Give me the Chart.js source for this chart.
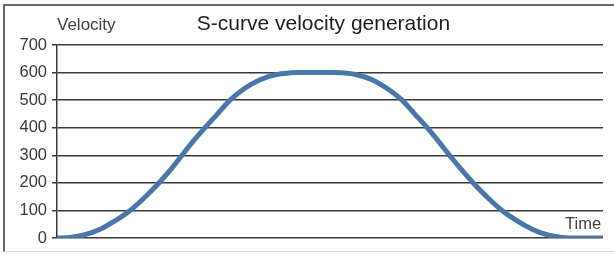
<!DOCTYPE html>
<html>
<head>
<meta charset="utf-8">
<script src="https://cdn.jsdelivr.net/npm/chart.js@4"></script>
<style>
  html, body { margin: 0; padding: 0; background: #fff; }
  #wrap { position: relative; width: 614px; height: 255px; overflow: hidden; font-family: "Liberation Sans", Arial, sans-serif; }
  #frame { position: absolute; left: 3px; top: 4px; width: 620px; height: 245px; border-top: 2px solid #6e6964; border-left: 2px solid #6e6964; border-bottom: 1px solid #e2e2e2; }
  #chart { position: absolute; left: 0; top: 0; }
  .lbl { position: absolute; white-space: nowrap; color: #404040; }
  #title { left: 0; width: 647px; text-align: center; top: 11px; font-size: 21px; color: #1e1e1e; }
  #ylab { left: 57px; top: 15px; font-size: 17px; }
  #xlab { left: 565px; top: 214px; font-size: 16.5px; }
</style>
</head>
<body>
<div id="wrap">
  <div id="frame"></div>
  <canvas id="chart" width="614" height="255"></canvas>
  <div class="lbl" id="title">S-curve velocity generation</div>
  <div class="lbl" id="ylab">Velocity</div>
  <div class="lbl" id="xlab">Time</div>
</div>
<script>
// time (arbitrary units 0..1000) and velocity
const times = [0, 24, 51, 79, 106, 134, 161, 185, 207, 225, 247, 271, 295, 317, 344, 372, 399, 427, 445,
  474, 504, 522, 549, 577, 604, 632, 654, 678, 701, 723, 742, 764, 788, 815, 843, 870, 897, 925, 949, 1000];
const velocity = [0, 2, 12, 32, 62, 100, 148, 196, 245, 290, 345, 400, 452, 500, 543, 574, 592, 599, 600,
  600, 600, 599, 592, 574, 543, 500, 452, 400, 345, 290, 245, 196, 148, 100, 62, 32, 12, 2, 0, 0];
const yTicks = [0, 100, 200, 300, 400, 500, 600, 700];

const points = times.map((t, i) => ({ x: t, y: velocity[i] }));
const gridColor = '#3d3a36';

const ctx = document.getElementById('chart').getContext('2d');
new Chart(ctx, {
  type: 'line',
  data: {
    datasets: [{
      data: points,
      borderColor: '#4a77a9',
      borderWidth: 5,
      pointRadius: 0,
      cubicInterpolationMode: 'monotone',
      fill: false
    }]
  },
  options: {
    responsive: false,
    animation: false,
    layout: { padding: { left: 0, right: 11, top: 45, bottom: 17 } },
    plugins: { legend: { display: false }, tooltip: { enabled: false } },
    scales: {
      x: { type: 'linear', min: 0, max: 1000, display: false },
      y: {
        min: 0, max: 700,
        afterFit: scale => { scale.width = 57; },
        afterBuildTicks: scale => { scale.ticks = yTicks.map(v => ({ value: v })); },
        ticks: { padding: 5, color: '#3a3a3a', font: { family: '"Liberation Sans", Arial, sans-serif', size: 16.5 } },
        grid: { color: gridColor, lineWidth: 1.5, tickLength: 5 },
        border: { display: true, color: gridColor, width: 1.5 }
      }
    }
  }
});
</script>
</body>
</html>
